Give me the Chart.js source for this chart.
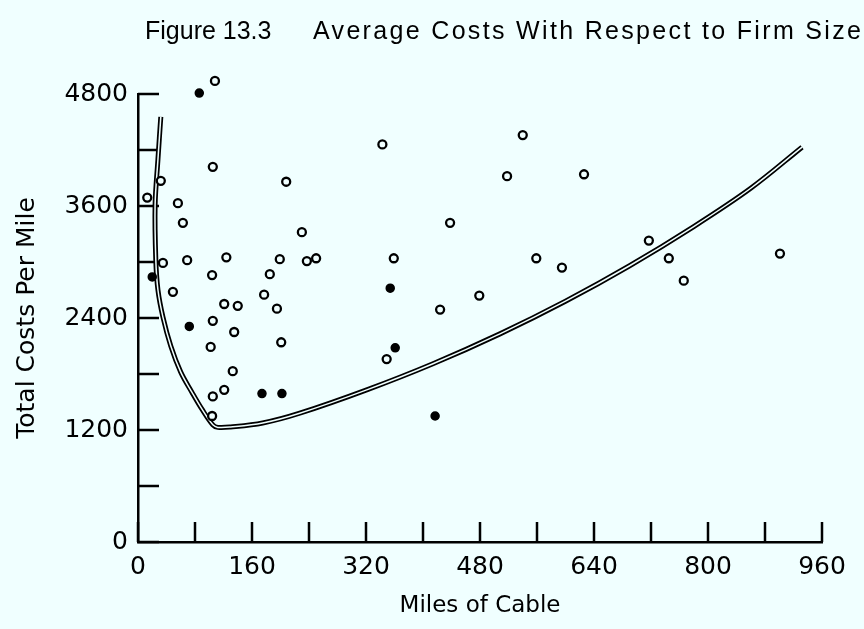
<!DOCTYPE html>
<html>
<head>
<meta charset="utf-8">
<script src="https://cdn.jsdelivr.net/npm/chart.js@4/dist/chart.umd.min.js"></script>
<style>
  body { margin: 0; background: #f0ffff; }
  #wrap { width: 864px; height: 629px; }
</style>
</head>
<body>
<div id="wrap"><canvas id="costChart" width="864" height="629"></canvas></div>
<script>
// data (miles of cable, total costs per mile)
var titleParts = ['Figure 13.3', 'Average Costs With Respect to Firm Size'];
var xTitle = 'Miles of Cable';
var yTitle = 'Total Costs Per Mile';

var hollowMiles = [13, 32, 35, 56, 63, 69, 105, 108, 124, 104, 208, 199, 185, 49, 177, 121, 140, 195, 105, 135, 102, 201, 133, 121, 105, 104,
                   230, 237, 250, 343, 540, 518, 626, 438, 359, 559, 595, 479, 424, 349, 717, 745, 766, 901];
var hollowCost  = [3690, 3870, 2990, 3630, 3420, 3020, 4020, 4940, 3050, 2860, 3860, 3030, 2870, 2680, 2650, 2550, 2530, 2500, 2370, 2250, 2090, 2140, 1830, 1630, 1560, 1350,
                   3320, 3010, 3040, 4260, 4360, 3920, 3940, 3420, 3040, 3040, 2940, 2640, 2490, 1960, 3230, 3040, 2800, 3090];
var solidMiles = [86, 20, 72, 174, 202, 354, 361, 417];
var solidCost  = [4810, 2840, 2310, 1590, 1590, 2720, 2080, 1350];

var curveMiles = [32, 28, 24, 25, 28, 35, 46, 60, 76, 90, 105, 112, 130, 175, 227, 321, 414, 508, 600, 690, 780, 860, 932];
var curveCost  = [4555, 4100, 3610, 3020, 2700, 2410, 2100, 1820, 1600, 1420, 1255, 1228, 1232, 1275, 1380, 1630, 1910, 2230, 2580, 2960, 3380, 3790, 4230];

var bg = '#f0ffff';

function pairs(xs, ys) {
  return xs.map(function(v, i) { return {x: v, y: ys[i]}; });
}

Chart.defaults.color = '#000';
Chart.defaults.font.family = '"DejaVu Sans", sans-serif';

// tick marks point into the plot, like the printed figure;
// the plot area is also stretched upward while the marks are drawn so the
// one observation above 4800 is not dropped
var inwardTicks = {
  id: 'inwardTicks',
  beforeDatasetsDraw: function(chart) {
    var ctx = chart.ctx, area = chart.chartArea;
    var x = chart.scales.x, y = chart.scales.y;
    ctx.save();
    ctx.strokeStyle = '#000';
    ctx.lineWidth = 2.5;
    ctx.beginPath();
    y.ticks.forEach(function(t) {
      var py = y.getPixelForValue(t.value);
      ctx.moveTo(area.left, py);
      ctx.lineTo(area.left + 21, py);
    });
    x.ticks.forEach(function(t) {
      var px = x.getPixelForValue(t.value);
      ctx.moveTo(px, area.bottom);
      ctx.lineTo(px, area.bottom - 20);
    });
    ctx.stroke();
    ctx.restore();
    chart._realTop = area.top;
    area.top = 0;
  },
  afterDatasetsDraw: function(chart) {
    chart.chartArea.top = chart._realTop;
  }
};

var figureTitle = {
  id: 'figureTitle',
  afterDraw: function(chart) {
    var ctx = chart.ctx;
    ctx.save();
    ctx.fillStyle = '#000';
    ctx.textBaseline = 'alphabetic';
    ctx.font = '25px "Liberation Sans"';
    ctx.fillText(titleParts[0], 145, 39);
    var w = ctx.measureText(titleParts[1]).width;
    ctx.letterSpacing = ((861 - 313 - w) / (titleParts[1].length - 1)).toFixed(2) + 'px';
    ctx.fillText(titleParts[1], 313, 39);
    ctx.restore();
  }
};

var ctxC = document.getElementById('costChart').getContext('2d');
var costChart = new Chart(ctxC, {
  type: 'scatter',
  data: {
    datasets: [{
      label: 'hollow',
      data: pairs(hollowMiles, hollowCost),
      pointRadius: 4,
      pointBorderWidth: 2.3,
      pointBorderColor: '#000',
      pointBackgroundColor: bg,
      clip: false,
      order: 0
    }, {
      label: 'solid',
      data: pairs(solidMiles, solidCost),
      pointRadius: 4,
      pointBorderWidth: 1.5,
      pointBorderColor: '#000',
      pointBackgroundColor: '#000',
      clip: false,
      order: 0
    }, {
      label: 'curve inner',
      data: pairs(curveMiles, curveCost),
      showLine: true,
      borderColor: bg,
      borderWidth: 1.5,
      pointRadius: 0,
      tension: 0.35,
      order: 1
    }, {
      label: 'curve',
      data: pairs(curveMiles, curveCost),
      showLine: true,
      borderColor: '#000',
      borderWidth: 5,
      pointRadius: 0,
      tension: 0.35,
      order: 2
    }]
  },
  options: {
    responsive: false,
    devicePixelRatio: 1,
    animation: false,
    layout: { padding: { top: 94, right: 42, left: 0, bottom: 0 } },
    plugins: {
      legend: { display: false },
      tooltip: { enabled: false }
    },
    scales: {
      x: {
        type: 'linear',
        min: 0,
        max: 960,
        afterFit: function(scale) { scale.height = 87; },
        grid: { drawOnChartArea: false, drawTicks: false },
        border: { color: '#000', width: 2.5 },
        ticks: {
          stepSize: 80,
          autoSkip: false,
          maxRotation: 0,
          padding: 10,
          font: { size: 25 },
          callback: function(v) { return v % 160 === 0 ? v : ''; }
        },
        title: {
          display: true,
          text: xTitle,
          font: { size: 23 },
          padding: { top: 0, bottom: 9 }
        }
      },
      y: {
        min: 0,
        max: 4800,
        afterFit: function(scale) { scale.width = 138; },
        grid: { drawOnChartArea: false, drawTicks: false },
        border: { color: '#000', width: 2.5 },
        ticks: {
          stepSize: 600,
          autoSkip: false,
          padding: 10,
          font: { size: 25 },
          callback: function(v) { return v % 1200 === 0 ? v : ''; }
        },
        title: {
          display: true,
          text: yTitle,
          font: { size: 25 },
          padding: { top: 12, bottom: 0 }
        }
      }
    }
  },
  plugins: [inwardTicks, figureTitle]
});
</script>
</body>
</html>
